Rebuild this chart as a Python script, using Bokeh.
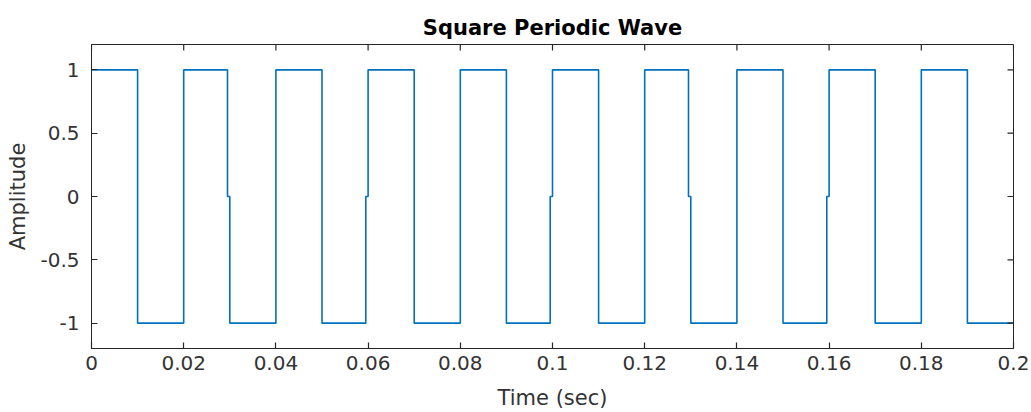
from bokeh.plotting import figure
from bokeh.models import Range1d, FixedTicker
from bokeh.embed import file_html
from bokeh.resources import INLINE

# ---- data ----
edge_times = [0.01, 0.02, 0.03, 0.04, 0.05, 0.06, 0.07, 0.08, 0.09, 0.10,
              0.11, 0.12, 0.13, 0.14, 0.15, 0.16, 0.17, 0.18, 0.19]
segment_levels = [1, -1, 1, -1, 1, -1, 1, -1, 1, -1,
                  1, -1, 1, -1, 1, -1, 1, -1, 1, -1]
glitch_times = [0.03, 0.06, 0.10, 0.13, 0.16]   # edges that pass through a sample at 0
glitch_level = 0
glitch_span = 0.0005
t_start, t_end = 0.0, 0.2
x_min, x_max = 0.0, 0.2
y_min, y_max = -1.2, 1.2

x_ticks = [0, 0.02, 0.04, 0.06, 0.08, 0.1, 0.12, 0.14, 0.16, 0.18, 0.2]
x_tick_labels = ["0", "0.02", "0.04", "0.06", "0.08", "0.1", "0.12", "0.14", "0.16", "0.18", "0.2"]
y_ticks = [-1, -0.5, 0, 0.5, 1]
y_tick_labels = ["-1", "-0.5", "0", "0.5", "1"]

# ---- build the polyline vertices ----
xs = [t_start]
ys = [segment_levels[0]]
for i, te in enumerate(edge_times):
    prev_l, next_l = segment_levels[i], segment_levels[i + 1]
    if any(abs(te - g) < 1e-9 for g in glitch_times):
        xs += [te - glitch_span, te - glitch_span, te, te]
        ys += [prev_l, glitch_level, glitch_level, next_l]
    else:
        xs += [te, te]
        ys += [prev_l, next_l]
xs.append(t_end)
ys.append(segment_levels[-1])

FONT = "DejaVu Sans"
AX = "#262626"
TXT = "#333333"

p = figure(width=1031, height=412, output_backend="svg", toolbar_location=None,
           x_range=Range1d(x_min, x_max), y_range=Range1d(y_min, y_max),
           min_border_left=91, min_border_right=18, min_border_top=44, min_border_bottom=64,
           title="Square Periodic Wave")
p.background_fill_color = "white"
p.border_fill_color = "white"
p.outline_line_color = AX
p.outline_line_width = 1
p.grid.visible = False

p.title.align = "center"
p.title.text_font = FONT
p.title.text_font_size = "21px"
p.title.text_font_style = "bold"
p.title.text_color = "#000000"

p.line(xs, ys, line_color="#0072BD", line_width=1.6)

# inward tick marks on the top and right edges of the box (clipped to the frame)
p.scatter(x_ticks, [y_max] * len(x_ticks), marker="dash", size=12, angle=1.5708,
          line_color=AX, line_width=1.2)
p.scatter([x_max] * len(y_ticks), y_ticks, marker="dash", size=12,
          line_color=AX, line_width=1.2)

def style_axis(ax, ticks, labels):
    ax.ticker = FixedTicker(ticks=ticks)
    ax.major_label_overrides = {t: l for t, l in zip(ticks, labels)}
    ax.minor_tick_line_color = None
    ax.major_tick_in = 6
    ax.major_tick_out = 0
    ax.major_tick_line_color = AX
    ax.major_tick_line_width = 1.2
    ax.axis_line_color = AX
    ax.major_label_text_font = FONT
    ax.major_label_text_color = TXT
    ax.major_label_text_font_size = "20px"
    ax.axis_label_text_font = FONT
    ax.axis_label_text_color = TXT
    ax.axis_label_text_font_style = "normal"
    ax.axis_label_text_font_size = "21px"

xa = p.xaxis[0]
ya = p.yaxis[0]
style_axis(xa, x_ticks, x_tick_labels)
style_axis(ya, y_ticks, y_tick_labels)
xa.axis_label = "Time (sec)"
ya.axis_label = "Amplitude"
xa.major_label_standoff = 7
xa.axis_label_standoff = 13
ya.major_label_standoff = 12
ya.axis_label_standoff = 7

open("out.html", "w").write(file_html(p, INLINE))
